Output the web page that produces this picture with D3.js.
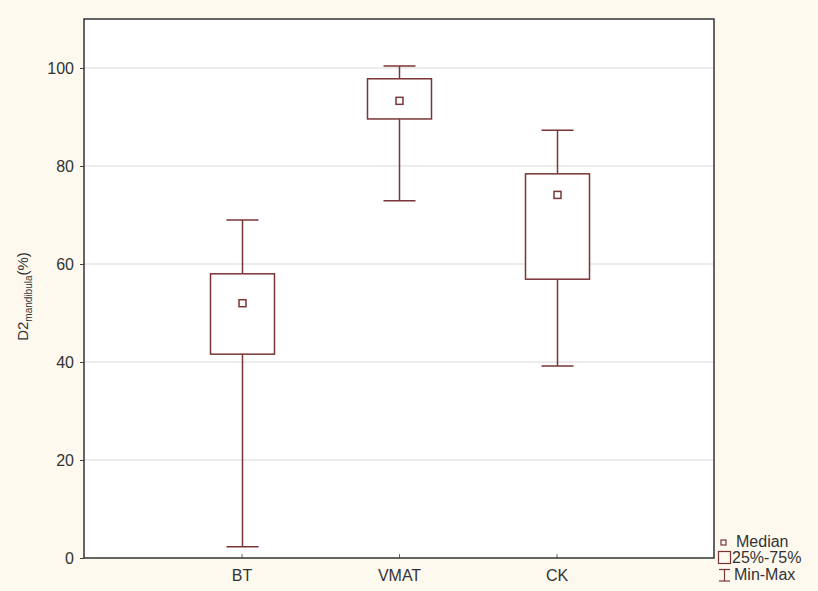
<!DOCTYPE html>
<html>
<head>
<meta charset="utf-8">
<script src="https://cdn.jsdelivr.net/npm/d3@7"></script>
<style>
  html, body { margin: 0; padding: 0; background: #fdf9ef; }
  svg { display: block; font-family: "Liberation Sans", Arial, sans-serif; }
</style>
</head>
<body>
<svg id="chart" width="818" height="591"></svg>
<script>
// Box plot of D2 mandibula (%) per technique
const categories = ["BT", "VMAT", "CK"];
const minVals    = [2.3, 72.9, 39.2];
const q1Vals     = [41.6, 89.6, 56.9];
const medianVals = [52.0, 93.3, 74.1];
const q3Vals     = [58.0, 97.8, 78.4];
const maxVals    = [69.0, 100.4, 87.3];
const yTicks     = [0, 20, 40, 60, 80, 100];

const stroke = "#7a3535";
const textCol = "#333";
const svg = d3.select("#chart");

const margin = { left: 84, top: 19, right: 104, bottom: 33 };
const W = 818, H = 591;
const plotW = W - margin.left - margin.right;
const plotH = H - margin.top - margin.bottom;

const x = d3.scaleLinear().domain([0, categories.length + 1]).range([margin.left, margin.left + plotW]);
const y = d3.scaleLinear().domain([0, 110]).range([margin.top + plotH, margin.top]);

// plot area
svg.append("rect")
  .attr("x", margin.left).attr("y", margin.top)
  .attr("width", plotW).attr("height", plotH)
  .attr("fill", "#ffffff");

// gridlines
svg.append("g").selectAll("line").data(yTicks.filter(d => d > 0)).join("line")
  .attr("x1", margin.left).attr("x2", margin.left + plotW)
  .attr("y1", d => y(d)).attr("y2", d => y(d))
  .attr("stroke", "#d9d9d9").attr("stroke-width", 1);

// y axis
const yAxis = d3.axisLeft(y).tickValues(yTicks).tickSize(4).tickPadding(6);
const gy = svg.append("g").attr("transform", `translate(${margin.left},0)`).call(yAxis);
gy.select(".domain").remove();
gy.selectAll(".tick line").attr("stroke", "#444");
gy.selectAll(".tick text").attr("font-size", 16).attr("fill", textCol).attr("font-family", "Liberation Sans, Arial, sans-serif");

// x axis
const xAxis = d3.axisBottom(x).tickValues(categories.map((c, i) => i + 1))
  .tickFormat((d) => categories[d - 1]).tickSize(-4).tickPadding(12);
const gx = svg.append("g").attr("transform", `translate(0,${margin.top + plotH})`).call(xAxis);
gx.select(".domain").remove();
gx.selectAll(".tick line").attr("stroke", "#666");
gx.selectAll(".tick text").attr("font-size", 16).attr("fill", textCol).attr("font-family", "Liberation Sans, Arial, sans-serif");

// frame
svg.append("rect")
  .attr("x", margin.left).attr("y", margin.top)
  .attr("width", plotW).attr("height", plotH)
  .attr("fill", "none").attr("stroke", "#333").attr("stroke-width", 1.5);

// boxes
const boxW = 64, capW = 32, medS = 7;
const g = svg.append("g");
categories.forEach((c, i) => {
  const cx = Math.round(x(i + 1)) + 0.5;
  // whisker lines
  g.append("line").attr("x1", cx).attr("x2", cx).attr("y1", y(maxVals[i])).attr("y2", y(q3Vals[i]))
    .attr("stroke", stroke).attr("stroke-width", 1.5);
  g.append("line").attr("x1", cx).attr("x2", cx).attr("y1", y(q1Vals[i])).attr("y2", y(minVals[i]))
    .attr("stroke", stroke).attr("stroke-width", 1.5);
  // caps
  [maxVals[i], minVals[i]].forEach(v => {
    g.append("line").attr("x1", cx - capW / 2).attr("x2", cx + capW / 2).attr("y1", y(v)).attr("y2", y(v))
      .attr("stroke", stroke).attr("stroke-width", 1.5);
  });
  // box
  g.append("rect").attr("x", cx - boxW / 2).attr("y", y(q3Vals[i]))
    .attr("width", boxW).attr("height", y(q1Vals[i]) - y(q3Vals[i]))
    .attr("fill", "#ffffff").attr("stroke", stroke).attr("stroke-width", 1.5);
  // median
  g.append("rect").attr("x", cx - medS / 2).attr("y", y(medianVals[i]) - medS / 2)
    .attr("width", medS).attr("height", medS)
    .attr("fill", "none").attr("stroke", stroke).attr("stroke-width", 1.5);
});

// y axis title with subscript
const yt = svg.append("text")
  .attr("transform", `translate(28,${margin.top + plotH / 2 + 8}) rotate(-90)`)
  .attr("text-anchor", "middle").attr("font-size", 15).attr("fill", textCol);
yt.append("tspan").text("D2");
yt.append("tspan").attr("font-size", 10).attr("dy", 4).text("mandibula");
yt.append("tspan").attr("dy", -4).text("(%)");

// legend
const lg = svg.append("g").attr("transform", "translate(718,0)");
const legFont = 16;
lg.append("rect").attr("x", 3).attr("y", 540).attr("width", 5).attr("height", 5)
  .attr("fill", "none").attr("stroke", stroke).attr("stroke-width", 1.2);
lg.append("text").attr("x", 18).attr("y", 547).attr("font-size", legFont).attr("fill", textCol).text("Median");
lg.append("rect").attr("x", 0.5).attr("y", 551.5).attr("width", 12).attr("height", 12)
  .attr("fill", "none").attr("stroke", stroke).attr("stroke-width", 1.2);
lg.append("text").attr("x", 14).attr("y", 563).attr("font-size", legFont).attr("fill", textCol).text("25%-75%");
lg.append("line").attr("x1", 1).attr("x2", 12).attr("y1", 569.5).attr("y2", 569.5).attr("stroke", stroke).attr("stroke-width", 1.2);
lg.append("line").attr("x1", 6.5).attr("x2", 6.5).attr("y1", 569.5).attr("y2", 581).attr("stroke", stroke).attr("stroke-width", 1.2);
lg.append("line").attr("x1", 1).attr("x2", 12).attr("y1", 581).attr("y2", 581).attr("stroke", stroke).attr("stroke-width", 1.2);
lg.append("text").attr("x", 16).attr("y", 580).attr("font-size", legFont).attr("fill", textCol).text("Min-Max");
</script>
</body>
</html>
